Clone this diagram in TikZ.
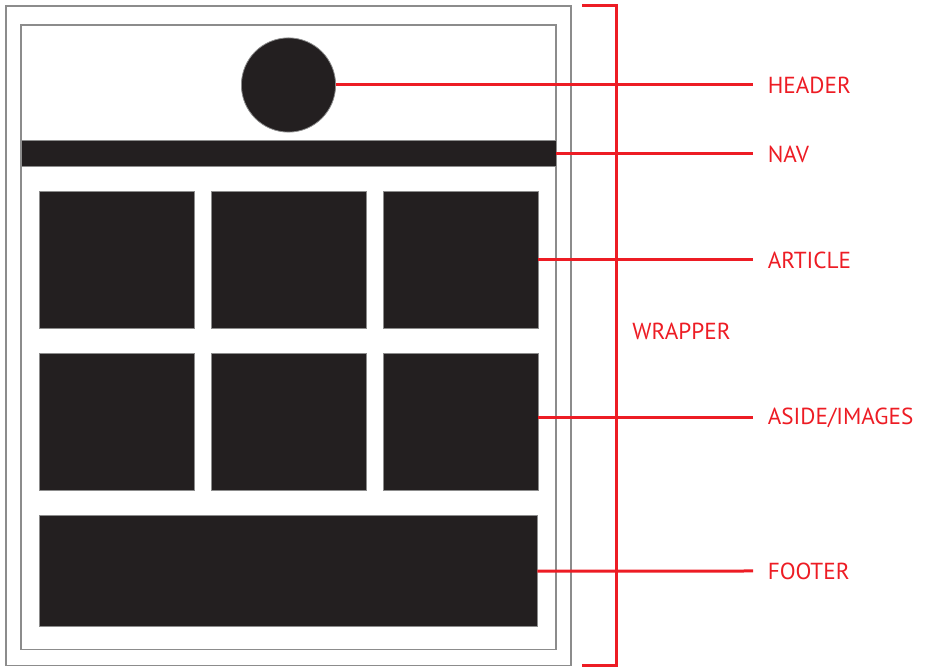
\documentclass[tikz,border=0pt]{standalone}
\usepackage{fontspec}
\setmainfont{PT Sans}
\usetikzlibrary{positioning}

\definecolor{ink}{HTML}{231F20}
\definecolor{signal}{HTML}{ED1C24}
\definecolor{frame}{HTML}{8C8C8C}

\tikzset{
	block/.style={fill=ink, draw=frame, line width=0.4pt, inner sep=0pt, outer sep=0pt},
	tag/.style={anchor=west, text=signal, font=\fontsize{11.6}{13}\selectfont, inner xsep=7.2pt, inner ysep=0pt},
	lead/.style={draw=signal, line width=1.5pt}
}

\begin{document}
\begin{tikzpicture}[x=0.5pt, y=-0.5pt]
		\useasboundingbox (0,0) rectangle (934,672);
		% page and wrapper frames
		\draw[frame, line width=0.75pt] (6,6) rectangle (571,665.5);
		\draw[frame, line width=0.75pt] (21,25) rectangle (556,649.5);
		% header, nav
		\node[block, circle, minimum size=47.1pt] (logo) at (288.5,85) {};
		\node[block, minimum width=267.5pt, minimum height=12.7pt] (nav) at (288.5,153.4) {};
		% grid of boxes
		\foreach \r in {0,1} {
			\foreach \c in {0,1,2} {
				\node[block, minimum width=77.3pt, minimum height=68.4pt] (b\r\c) at (116.6+172*\c, 260+161.6*\r) {};
			}
		}
		\node[block, minimum width=249pt, minimum height=55.5pt] (foot) at (288.3,571.2) {};
		% labels
		\node[tag] (tagheader) at (753,85) {HEADER};
		\node[tag] (tagnav) at (753,154) {NAV};
		\node[tag] (tagarticle) at (753,260) {ARTICLE};
		\node[tag] (tagaside) at (753,418) {ASIDE/IMAGES};
		\node[tag] (tagfooter) at (753,571) {FOOTER};
		\node[tag, inner xsep=0pt] (tagwrapper) at (632,331) {WRAPPER};
		% leaders
		\draw[lead] (logo.east) -- (tagheader.west);
		\draw[lead] (tagnav.west -| nav.east) -- (tagnav.west);
		\draw[lead] (b02.east) -- (tagarticle.west);
		\draw[lead] (tagaside.west -| b12.east) -- (tagaside.west);
		\draw[lead] (foot.east) -- (tagfooter.west);
		% bracket
		\coordinate (bt) at (582,6);
		\coordinate (bb) at (582,666);
		\draw[lead] (bt) -- ++(34,0) |- (bb);
	\end{tikzpicture}
\end{document}
